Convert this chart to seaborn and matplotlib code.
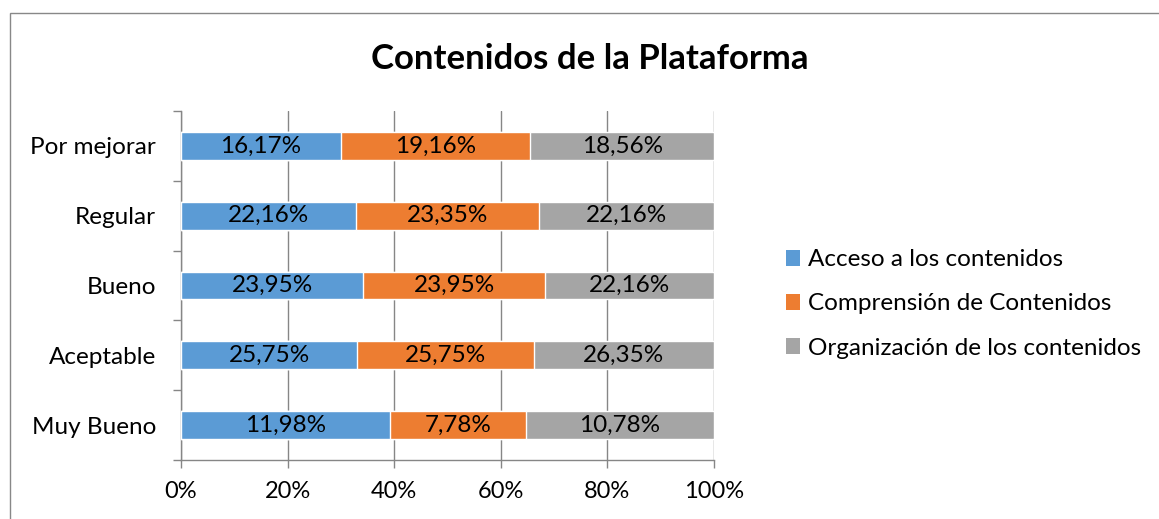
import numpy as np
import pandas as pd
import matplotlib
matplotlib.use("Agg")
import matplotlib.pyplot as plt
import seaborn as sns
from matplotlib.patches import Rectangle, Patch
from matplotlib.ticker import FixedLocator

categorias = ['Por mejorar', 'Regular', 'Bueno', 'Aceptable', 'Muy Bueno']
acceso = [16.17, 22.16, 23.95, 25.75, 11.98]
comprension = [19.16, 23.35, 23.95, 25.75, 7.78]
organizacion = [18.56, 22.16, 22.16, 26.35, 10.78]
series = ['Acceso a los contenidos', 'Comprensión de Contenidos', 'Organización de los contenidos']
colores = ['#5B9BD5', '#ED7D31', '#A5A5A5']

sns.set_style("white")
plt.rcParams['font.family'] = ['Lato', 'DejaVu Sans']
plt.rcParams['text.color'] = 'black'
plt.rcParams['xtick.labelcolor'] = 'black'
plt.rcParams['ytick.labelcolor'] = 'black'

df = pd.DataFrame({'cat': categorias, 'a': acceso, 'c': comprension, 'o': organizacion})
total = df[['a', 'c', 'o']].sum(axis=1)
df['pa'] = df['a'] / total * 100
df['pc'] = df['c'] / total * 100
df['po'] = df['o'] / total * 100
df['cum1'] = df['pa']
df['cum2'] = df['pa'] + df['pc']
df['cum3'] = df['cum2'] + df['po']

fig = plt.figure(figsize=(11.59, 5.19), dpi=100)
ax = fig.add_axes([181 / 1159, 1 - 460 / 519, 533 / 1159, 349 / 519])

# apilado: dibujar acumulados de atrás hacia adelante
sns.barplot(data=df, y='cat', x='cum3', color=colores[2], orient='h', width=0.4,
            saturation=1, ax=ax, zorder=3)
sns.barplot(data=df, y='cat', x='cum2', color=colores[1], orient='h', width=0.4,
            saturation=1, ax=ax, zorder=3)
sns.barplot(data=df, y='cat', x='cum1', color=colores[0], orient='h', width=0.4,
            saturation=1, ax=ax, zorder=3)

# etiquetas de datos
for i, row in df.iterrows():
    starts = [0, row['cum1'], row['cum2']]
    widths = [row['pa'], row['pc'], row['po']]
    vals = [row['a'], row['c'], row['o']]
    for s, w, v in zip(starts, widths, vals):
        ax.text(s + w / 2, i, f"{v:.2f}%".replace('.', ','), ha='center', va='center',
                fontsize=17.5, color='black', zorder=4)

ax.set_xlim(0, 100)
ax.set_ylim(4.5, -0.5)
ax.set_xticks(np.arange(0, 101, 20))
ax.set_xticklabels([f"{t}%" for t in range(0, 101, 20)], fontsize=17)
ax.set_xlabel('')
ax.set_ylabel('')
ax.tick_params(axis='y', which='major', length=0, pad=18, labelsize=17.5, labelcolor='black')
ax.yaxis.set_minor_locator(FixedLocator(np.arange(-0.5, 5, 1)))
ax.tick_params(axis='y', which='minor', length=6, color='#868686', width=1, left=True)
ax.tick_params(axis='x', length=6, color='#868686', width=1, bottom=True, pad=9,
               labelcolor='black')
ax.grid(axis='x', color='#868686', linewidth=1, zorder=0)
ax.set_axisbelow(True)
for side in ['top', 'right']:
    ax.spines[side].set_visible(False)
for side in ['left', 'bottom']:
    ax.spines[side].set_color('#868686')
    ax.spines[side].set_linewidth(1)

fig.text(590 / 1159, 1 - 59 / 519, 'Contenidos de la Plataforma', ha='center', va='center',
         fontsize=25, fontweight='bold', color='black')

handles = [Patch(facecolor=c, edgecolor='none') for c in colores]
leg = fig.legend(handles, series, loc='center left', bbox_to_anchor=(776 / 1159, 1 - 304 / 519),
                 frameon=False, fontsize=17.5, handlelength=0.6, handleheight=0.6,
                 handletextpad=0.3, labelspacing=0.95, borderaxespad=0)
for t in leg.get_texts():
    t.set_color('black')

fig.patches.append(Rectangle((10 / 1159, -0.1), 1.2, 1 - 13 / 519 + 0.1,
                             transform=fig.transFigure, fill=False,
                             edgecolor='#888888', linewidth=1))

fig.savefig('out.png', dpi=100)
